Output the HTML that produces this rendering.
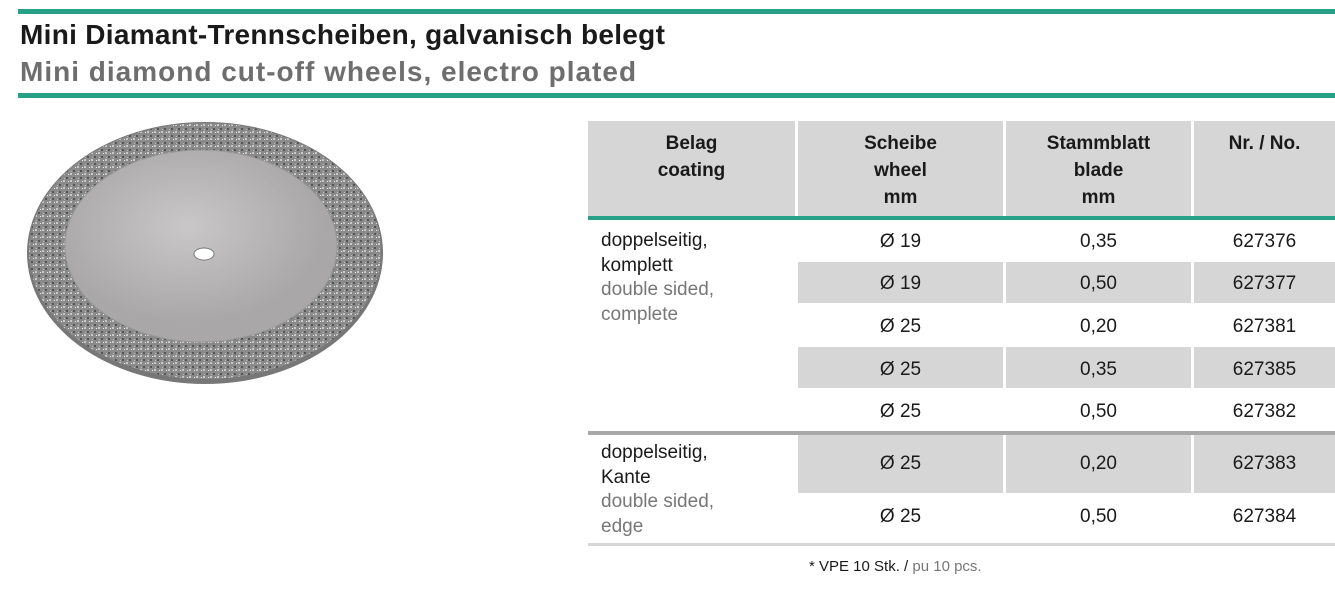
<!DOCTYPE html>
<html><head><meta charset="utf-8"><style>
body{margin:0;width:1335px;height:593px;background:#fff;position:relative;overflow:hidden;font-family:"Liberation Sans",sans-serif}
.a{position:absolute}
.t{position:absolute;font-size:19px;color:#1a1a1a;text-align:center;line-height:27px}
.g{background:#d6d6d6}
.h{font-weight:bold;font-size:19px;line-height:27px;color:#1a1a1a;text-align:center;position:absolute}
.en{color:#777}
</style></head><body>
<div class="a" style="left:18px;top:9px;width:1317px;height:5px;background:#26a188"></div>
<div class="a" style="left:20px;top:19px;font-size:28px;font-weight:bold;color:#1a1a1a;letter-spacing:0.3px">Mini Diamant-Trennscheiben, galvanisch belegt</div>
<div class="a" style="left:20px;top:56px;font-size:28px;font-weight:bold;color:#6e6e6e;letter-spacing:1px">Mini diamond cut-off wheels, electro plated</div>
<div class="a" style="left:18px;top:93px;width:1317px;height:5px;background:#26a188"></div>

<svg class="a" style="left:0;top:110px" width="420" height="300">
<defs><pattern id="p" width="7" height="7" patternUnits="userSpaceOnUse"><rect width="7" height="7" fill="#8a8a8a"/><rect x="0" y="0" width="2" height="2" fill="#c8c8c8"/><rect x="3" y="4" width="2" height="2" fill="#555"/><rect x="5" y="1" width="1" height="1" fill="#eee"/><rect x="1" y="5" width="1" height="1" fill="#bbb"/></pattern>
<radialGradient id="r" cx="0.45" cy="0.4"><stop offset="0" stop-color="#c9c7c8"/><stop offset="1" stop-color="#a9a7a8"/></radialGradient></defs>
<ellipse cx="205" cy="143" rx="178" ry="131" fill="#777"/>
<ellipse cx="205" cy="141" rx="176" ry="128" fill="url(#p)"/>
<ellipse cx="201" cy="136" rx="136" ry="96" fill="url(#r)" stroke="#999"/>
<ellipse cx="204" cy="144" rx="10" ry="6" fill="#fff" stroke="#777"/>
</svg>

<div class="a g" style="left:588px;top:121px;width:207px;height:95px"></div>
<div class="a g" style="left:798px;top:121px;width:205px;height:95px"></div>
<div class="a g" style="left:1006px;top:121px;width:185px;height:95px"></div>
<div class="a g" style="left:1194px;top:121px;width:141px;height:95px"></div>
<div class="h" style="left:588px;top:130px;width:207px">Belag<br>coating</div>
<div class="h" style="left:798px;top:130px;width:205px">Scheibe<br>wheel<br>mm</div>
<div class="h" style="left:1006px;top:130px;width:185px">Stammblatt<br>blade<br>mm</div>
<div class="h" style="left:1194px;top:130px;width:141px">Nr. / No.</div>
<div class="a" style="left:588px;top:216px;width:747px;height:4px;background:#26a188"></div>

<div class="a g" style="left:798px;top:262px;width:205px;height:41px"></div>
<div class="a g" style="left:1006px;top:262px;width:185px;height:41px"></div>
<div class="a g" style="left:1194px;top:262px;width:141px;height:41px"></div>
<div class="a g" style="left:798px;top:347px;width:205px;height:41px"></div>
<div class="a g" style="left:1006px;top:347px;width:185px;height:41px"></div>
<div class="a g" style="left:1194px;top:347px;width:141px;height:41px"></div>
<div class="a" style="left:588px;top:431px;width:747px;height:4px;background:#a8a8a8"></div>
<div class="a g" style="left:798px;top:435px;width:205px;height:58px"></div>
<div class="a g" style="left:1006px;top:435px;width:185px;height:58px"></div>
<div class="a g" style="left:1194px;top:435px;width:141px;height:58px"></div>
<div class="a" style="left:588px;top:543px;width:747px;height:3px;background:#d6d6d6"></div>

<div class="t" style="left:601px;top:229px;text-align:left;line-height:24.5px">doppelseitig,<br>komplett<br><span class="en">double sided,<br>complete</span></div>
<div class="t" style="left:601px;top:441px;text-align:left;line-height:24.5px">doppelseitig,<br>Kante<br><span class="en">double sided,<br>edge</span></div>

<div class="t" style="left:798px;top:228px;width:205px">Ø 19</div><div class="t" style="left:1006px;top:228px;width:185px">0,35</div><div class="t" style="left:1194px;top:228px;width:141px">627376</div>
<div class="t" style="left:798px;top:270px;width:205px">Ø 19</div><div class="t" style="left:1006px;top:270px;width:185px">0,50</div><div class="t" style="left:1194px;top:270px;width:141px">627377</div>
<div class="t" style="left:798px;top:313px;width:205px">Ø 25</div><div class="t" style="left:1006px;top:313px;width:185px">0,20</div><div class="t" style="left:1194px;top:313px;width:141px">627381</div>
<div class="t" style="left:798px;top:356px;width:205px">Ø 25</div><div class="t" style="left:1006px;top:356px;width:185px">0,35</div><div class="t" style="left:1194px;top:356px;width:141px">627385</div>
<div class="t" style="left:798px;top:398px;width:205px">Ø 25</div><div class="t" style="left:1006px;top:398px;width:185px">0,50</div><div class="t" style="left:1194px;top:398px;width:141px">627382</div>
<div class="t" style="left:798px;top:450px;width:205px">Ø 25</div><div class="t" style="left:1006px;top:450px;width:185px">0,20</div><div class="t" style="left:1194px;top:450px;width:141px">627383</div>
<div class="t" style="left:798px;top:503px;width:205px">Ø 25</div><div class="t" style="left:1006px;top:503px;width:185px">0,50</div><div class="t" style="left:1194px;top:503px;width:141px">627384</div>

<div class="a" style="left:809px;top:558px;font-size:15px;color:#1a1a1a">* VPE 10 Stk. / <span class="en">pu 10 pcs.</span></div>
</body></html>
